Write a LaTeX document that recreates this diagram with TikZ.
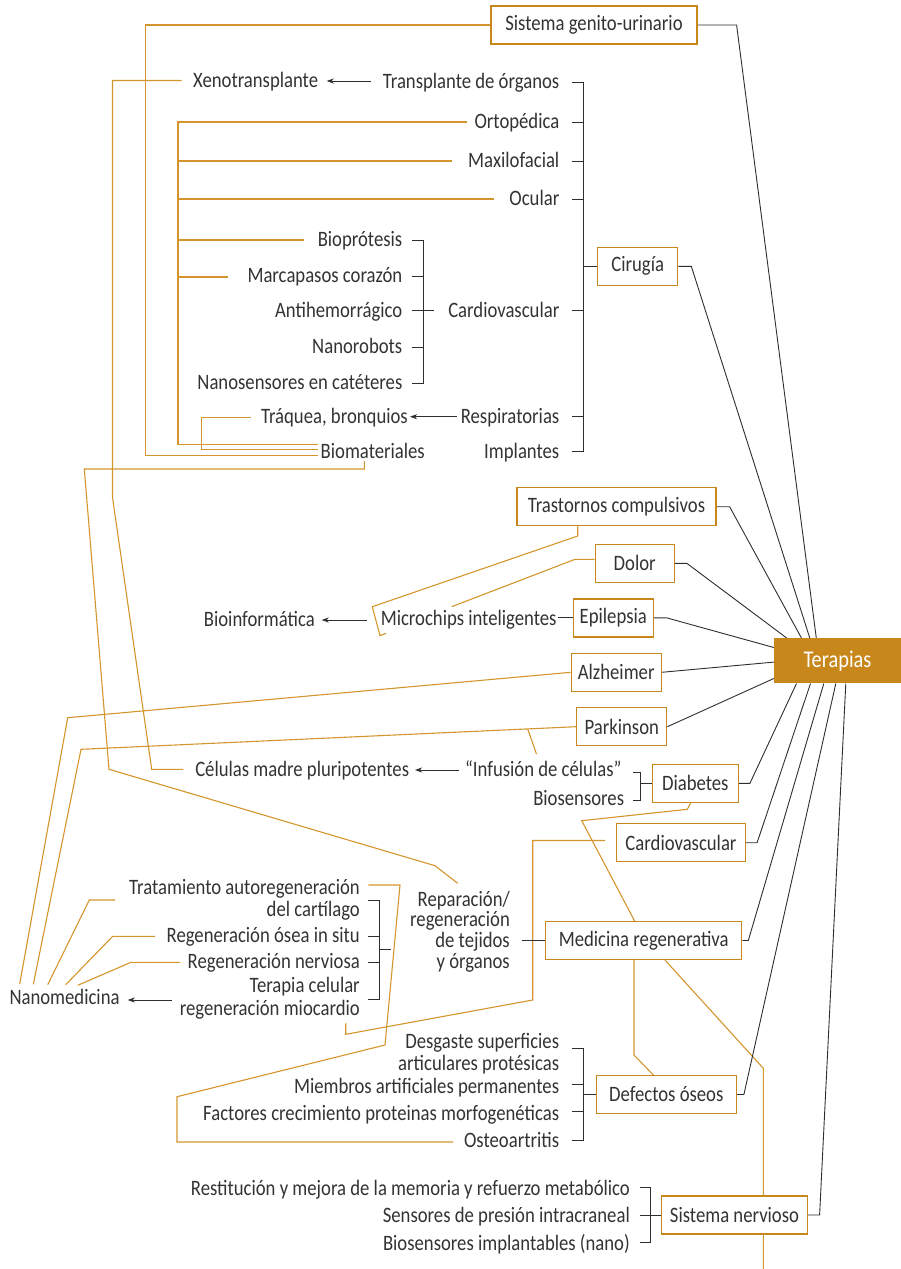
\documentclass[tikz,border=0pt]{standalone}
\usepackage{fontspec}
\setmainfont{Carlito}[FakeStretch=0.85]
\usetikzlibrary{arrows.meta}
\definecolor{gold}{HTML}{C8871A}
\definecolor{goldln}{HTML}{D4952C}
\definecolor{txt}{HTML}{333333}
\definecolor{ink}{HTML}{2E2E2E}
\pgfdeclarelayer{bg}
\pgfsetlayers{bg,main}
\begin{document}
\begin{tikzpicture}[x=1pt,y=-1pt,
  every node/.style={font=\fontsize{22}{22.5}\selectfont, text=txt},
  lbl/.style={inner sep=0pt, align=right, yshift=-4.5pt},
  box/.style={draw=gold, line width=1.2pt, fill=white, minimum height=38pt, inner sep=0pt},
  hub/.style={fill=gold, draw=none, text=white, minimum height=45pt, minimum width=127pt, inner sep=0pt, font=\fontsize{24}{24}\selectfont},
  ol/.style={draw=goldln, line width=1.1pt},
  bl/.style={draw=ink, line width=0.9pt},
  arr/.style={bl, -{Stealth[length=7pt,width=5pt,inset=2pt]}}
]
\useasboundingbox (0,0) rectangle (901,1269);

% ---------- boxes ----------
\node[box, minimum width=206pt] (sgu) at (594,25) {Sistema genito-urinario};
\node[box, minimum width=80pt]  (cir) at (637.7,266.3) {Cirugía};
\node[box, minimum width=199pt] (tra) at (616.5,506.7) {Trastornos compulsivos};
\node[box, minimum width=79pt]  (dol) at (634.7,563.3) {Dolor};
\node[box, minimum width=80pt]  (epi) at (613.3,617.9) {Epilepsia};
\node[box, minimum width=90pt]  (alz) at (616.2,672.3) {Alzheimer};
\node[box, minimum width=90pt]  (par) at (621.8,726.7) {Parkinson};
\node[box, minimum width=86pt]  (dia) at (695.3,783.3) {Diabetes};
\node[box, minimum width=129pt] (car) at (681,842.7) {Cardiovascular};
\node[box, minimum width=196pt] (med) at (643.7,940.5) {Medicina regenerativa};
\node[box, minimum width=140pt] (def) at (666.3,1094.5) {Defectos óseos};
\node[box, minimum width=146pt] (sn)  at (734.5,1215) {Sistema nervioso};
\node[hub] (ter) at (837.5,660.8) {Terapias};

% ---------- labels ----------
\node[lbl, anchor=mid east] (xeno) at (318.3,81) {Xenotransplante};
\node[lbl, anchor=mid east] (tdo)  at (559.5,82) {Transplante de órganos};
\node[lbl, anchor=mid east] (orto) at (559.5,122) {Ortopédica};
\node[lbl, anchor=mid east] (maxi) at (559.5,161) {Maxilofacial};
\node[lbl, anchor=mid east] (ocul) at (559.5,199) {Ocular};
\node[lbl, anchor=mid east] (cv)   at (559.5,310.5) {Cardiovascular};
\node[lbl, anchor=mid east] (resp) at (559.5,416.5) {Respiratorias};
\node[lbl, anchor=mid east] (impl) at (559.5,451.3) {Implantes};
\node[lbl, anchor=mid east] (biop) at (402.5,240) {Bioprótesis};
\node[lbl, anchor=mid east] (marc) at (402.5,276) {Marcapasos corazón};
\node[lbl, anchor=mid east] (anti) at (402.5,310.5) {Antihemorrágico};
\node[lbl, anchor=mid east] (nrob) at (402.5,347) {Nanorobots};
\node[lbl, anchor=mid east] (nsen) at (402.5,383) {Nanosensores en catéteres};
\node[lbl, anchor=mid east] (traq) at (408,417) {Tráquea, bronquios};
\node[lbl, anchor=mid east] (biom) at (425,451.5) {Biomateriales};

\node[lbl, anchor=mid east] (micro) at (556.7,619) {Microchips inteligentes};
\node[lbl, anchor=mid east] (binf)  at (315,620) {Bioinformática};
\node[lbl, anchor=mid east] (inf)   at (621.7,770) {“Infusión de células”};
\node[lbl, anchor=mid east] (bios)  at (624.3,798.3) {Biosensores};
\node[lbl, anchor=mid east] (cel)   at (409.3,769.3) {Células madre pluripotentes};
\node[lbl, anchor=mid east, font=\fontsize{22}{20.8}\selectfont] (rep) at (510,961.7) {Reparación/\\regeneración\\de tejidos\\y órganos};

\node[lbl, anchor=mid west] (nano) at (9.3,997.7) {Nanomedicina};
\node[lbl, anchor=mid east] (trat) at (360,910) {Tratamiento autoregeneración\\del cartílago};
\node[lbl, anchor=mid east] (oses) at (360,936) {Regeneración ósea in situ};
\node[lbl, anchor=mid east] (nerv) at (360,961.7) {Regeneración nerviosa};
\node[lbl, anchor=mid east] (tcel) at (360,1008.3) {Terapia celular\\regeneración miocardio};

\node[lbl, anchor=mid east] (desg) at (559.3,1064) {Desgaste superficies\\articulares protésicas};
\node[lbl, anchor=mid east] (miem) at (559.3,1086.7) {Miembros artificiales permanentes};
\node[lbl, anchor=mid east] (fact) at (559.3,1113.3) {Factores crecimiento proteinas morfogenéticas};
\node[lbl, anchor=mid east] (oste) at (559.3,1141) {Osteoartritis};

\node[lbl, anchor=mid east] (rest) at (630,1188.3) {Restitución y mejora de la memoria y refuerzo metabólico};
\node[lbl, anchor=mid east] (sens) at (630,1216) {Sensores de presión intracraneal};
\node[lbl, anchor=mid east] (bimp) at (630,1243.3) {Biosensores implantables (nano)};

\begin{pgfonlayer}{bg}
% ---------- gold cross-links ----------
\draw[ol] (sgu.west) -- (145.3,25) -- (145.3,455.3) -- (318,455.3);
\draw[ol] (466.7,122) -- (178,122) -- (178,444.3) -- (318,444.3);
\draw[ol] (178,161) -- (452.3,161);
\draw[ol] (178,199) -- (494.3,199);
\draw[ol] (178,240) -- (304.3,240);
\draw[ol] (178,277) -- (228.3,277);
\draw[ol] (250.7,417.3) -- (201.5,417.3) -- (201.5,449.3) -- (318,449.3);
\draw[ol] (364.3,461) -- (364.3,469) -- (84.3,469) -- (109,769.3) -- (435,865.7) -- (457.7,883.3);
\draw[ol] (181.7,80.5) -- (112.5,80.5) -- (112.5,497.3) -- (151.7,769.3) -- (183.3,769.3);
\draw[ol] (tra.south -| 577.7,0) -- (577.7,536) -- (372.3,606.7) -- (380,635.7) -- (386,633.3);
\draw[ol] (dol.west |- 0,559.3) -- (575,559.3) -- (451.7,606.7);
\draw[ol] (alz.west) -- (67.7,717.7) -- (19.7,984);
\draw[ol] (par.west) -- (81,749.3) -- (33.3,984.3);
\draw[ol] (527.7,729) -- (536.5,754);
\draw[ol] (115,900) -- (89.3,900) -- (47.7,984.7);
\draw[ol] (155,936.3) -- (112.7,936.3) -- (65.7,984.7);
\draw[ol] (180,962.3) -- (131,962.3) -- (77.7,985.3);
\draw[ol] (368.3,885) -- (400,885) -- (385,1045) -- (177,1096.7) -- (177,1142) -- (453,1142);
\draw[ol] (605,840.5) -- (532.7,840.5) -- (532.7,1000) -- (345.7,1034.3) -- (345.7,1023.3);
\draw[ol] (dia.south -| 690.7,0) -- (687.3,809.3) -- (581.7,820.7) -- (635,921.7);
\draw[ol] (med.south -| 634,0) -- (634,1055) -- (654,1075.7);
\draw[ol] (med.south -| 665,0) -- (763.3,1068.3) -- (763.3,1269);

% ---------- links to Terapias ----------
\draw[bl] (sgu.east) -- ++(39,0) -- ([xshift=42.5pt]ter.north west);
\draw[bl] (cir.east) -- ++(13,0) -- ([xshift=36pt]ter.north west);
\draw[bl] (tra.east) -- ++(13,0) -- ([xshift=27.7pt]ter.north west);
\draw[bl] (dol.east) -- ++(12,0) -- ([xshift=13pt]ter.north west);
\draw[bl] (epi.east) -- ++(13,0) -- ([yshift=-9.4pt]ter.north west);
\draw[bl] (alz.east) -- ([yshift=-24pt]ter.north west);
\draw[bl] (par.east) -- ([yshift=5pt]ter.south west);
\draw[bl] (dia.east) -- ++(11,0) -- ([xshift=22.7pt]ter.south west);
\draw[bl] (car.east) -- ++(11,0) -- ([xshift=36.7pt]ter.south west);
\draw[bl] (med.east) -- ++(6,0) -- ([xshift=50pt]ter.south west);
\draw[bl] (def.east) -- ++(7,0) -- ([xshift=62pt]ter.south west);
\draw[bl] (sn.east) -- ++(11.5,0) -- ([xshift=72pt]ter.south west);

% ---------- Cirugía bracket ----------
\draw[bl] (572.3,82) -- (583.3,82) -- (583.3,451.3) -- (572.3,451.3);
\foreach \y in {122,161,199,310.5,416.5} \draw[bl] (572.3,\y) -- (583.3,\y);
\draw[bl] (583.3,266.3) -- (cir.west);
\draw[bl] (412.3,240) -- (423.3,240) -- (423.3,383.3) -- (412.3,383.3);
\foreach \y in {276,310.5,347} \draw[bl] (412.3,\y) -- (423.3,\y);
\draw[bl] (423.3,310.5) -- (434.3,310.5);
\draw[arr] (456.7,416.7) -- (410,416.7);
\draw[arr] (370.7,81) -- (326.7,81);

% ---------- middle ----------
\draw[bl] (558.3,617.9) -- (epi.west);
\draw[arr] (366.7,620) -- (321.7,620);
\draw[arr] (459.3,770) -- (415,770);
\draw[bl] (633.3,772.3) -- (640.7,772.3) -- (640.7,800) -- (633.3,800);
\draw[bl] (640.7,783.3) -- (dia.west);
\draw[bl] (521.7,940.5) -- (med.west);

% ---------- Nanomedicina bracket ----------
\draw[bl] (367.7,900.7) -- (379,900.7) -- (379,999) -- (367.7,999);
\foreach \y in {936.3,962.3} \draw[bl] (367.7,\y) -- (379,\y);
\draw[bl] (379,949.3) -- (390.7,949.3);
\draw[arr] (171.7,1000) -- (127.7,1000);

% ---------- Defectos óseos bracket ----------
\draw[bl] (571.7,1048.3) -- (583,1048.3) -- (583,1140) -- (571.7,1140);
\foreach \y in {1084,1111.7} \draw[bl] (571.7,\y) -- (583,\y);
\draw[bl] (583,1094.5) -- (def.west);

% ---------- Sistema nervioso bracket ----------
\draw[bl] (640,1187.7) -- (650,1187.7) -- (650,1242.7) -- (640,1242.7);
\draw[bl] (640,1215) -- (sn.west);
\end{pgfonlayer}
\end{tikzpicture}
\end{document}
